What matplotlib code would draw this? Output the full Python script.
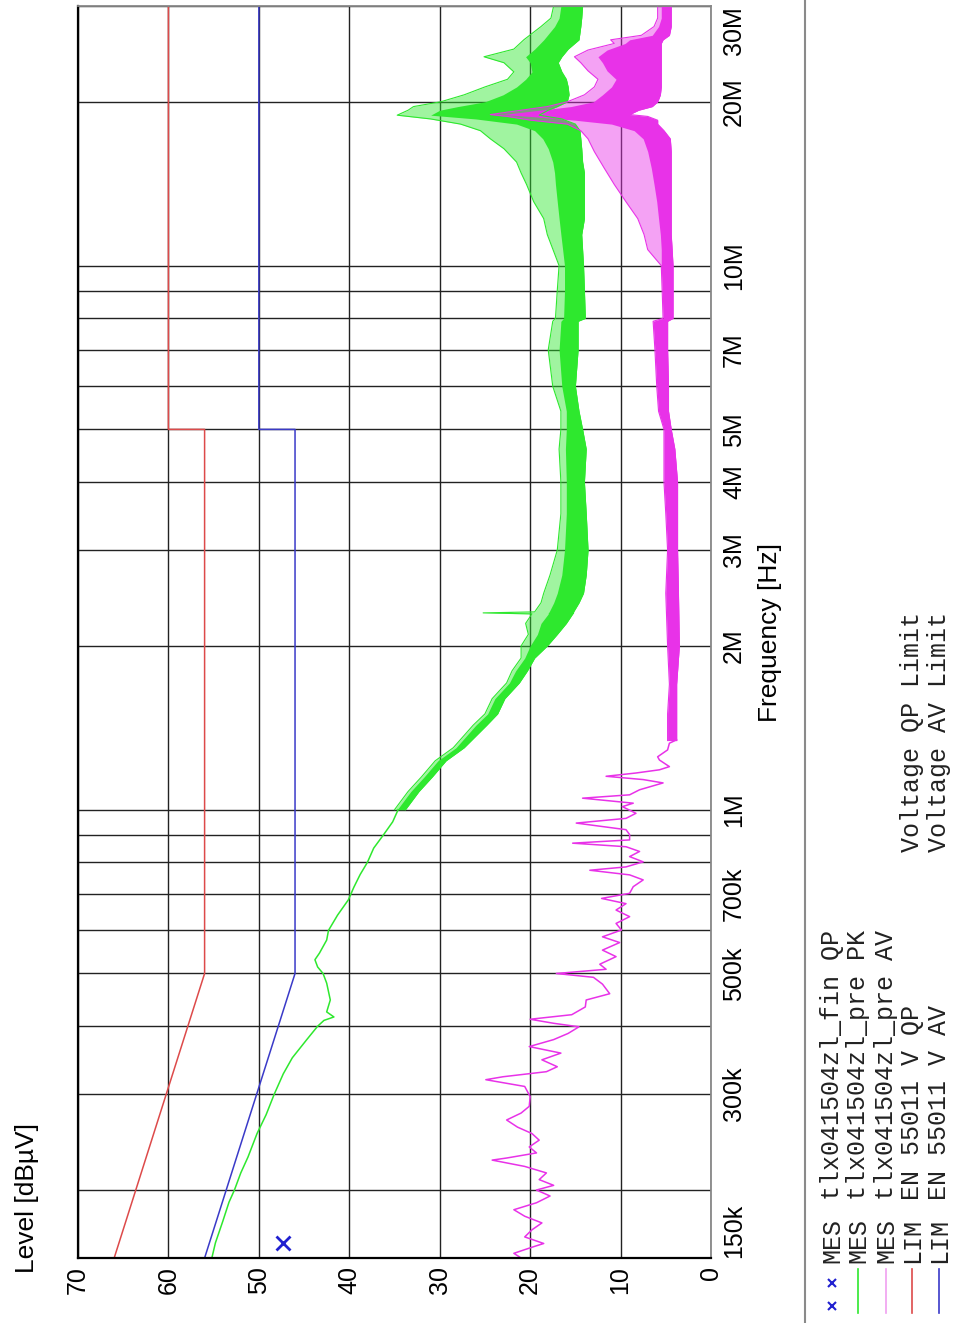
import matplotlib
matplotlib.use("Agg")
import matplotlib.pyplot as plt
from matplotlib.lines import Line2D
from matplotlib.ticker import NullFormatter
import numpy as np

# limit lines (EN 55011)
lim_freq = [150e3, 500e3, 5e6, 5e6, 30e6]
qp_limit = [66, 56, 56, 60, 60]
av_limit = [56, 46, 46, 50, 50]

# final QP measurement
qp_freq = [160e3]
qp_level = [47.3]

# pre-scan PK, low frequency part (single trace), kHz / dBuV
pk_line_freq = [150, 160, 175, 190, 200, 215, 230, 254, 275, 300, 327, 350, 378, 400,
                410, 416, 425, 447, 480, 500, 514, 530, 545, 576, 600, 640, 683, 720,
                760, 800, 850, 900, 950, 1000]
pk_line_level = [55.2, 54.8, 54.0, 53.3, 52.7, 52.0, 51.2, 50.2, 49.2, 48.3, 47.3, 46.3,
                 44.7, 43.5, 42.8, 41.7, 42.5, 42.1, 42.5, 42.9, 43.5, 43.8, 43.3, 42.5,
                 42.3, 41.3, 40.1, 39.5, 38.8, 38.0, 37.3, 36.2, 35.2, 34.6]

# pre-scan PK, noisy part: MHz, min / max / dense core
pk_band_freq = [1.0, 1.08, 1.15, 1.23, 1.30, 1.43, 1.5, 1.6, 1.71, 1.8, 1.9, 2.0, 2.1,
                2.2, 2.29, 2.30, 2.31, 2.4, 2.5, 2.7, 3.0, 3.5, 4.0, 4.6, 5.0, 5.4, 6.0,
                7.0, 7.9, 8.0, 9.0, 10.0, 11.4, 12.2, 13.1, 14.1, 14.8, 15.5, 16.4, 17.1,
                17.7, 18.2, 18.6, 18.9, 19.3, 19.6, 20.0, 20.6, 21.3, 22.0, 22.7, 23.6,
                24.2, 25.0, 26.0, 27.5, 28.5, 30.0]
pk_band_lo = [33.8, 32.3, 30.8, 29.3, 27.3, 24.8, 23.6, 22.8, 21.2, 20.3, 19.5, 18.1, 17.0,
              16.0, 15.3, 15.2, 15.2, 14.6, 14.1, 13.8, 13.6, 13.8, 14.0, 13.8, 14.2, 14.6,
              15.0, 14.7, 14.7, 13.9, 14.0, 14.1, 14.3, 14.0, 14.0, 14.0, 14.0, 14.2, 14.3,
              14.4, 14.5, 15.0, 16.5, 19.0, 18.0, 17.0, 15.9, 15.7, 15.8, 16.0, 16.5, 16.9,
              16.5, 15.8, 14.6, 14.4, 14.3, 14.2]
pk_band_hi = [35.0, 33.5, 32.0, 30.5, 28.5, 26.3, 25.0, 24.2, 22.6, 22.0, 21.0, 21.0, 20.2,
              20.5, 19.8, 25.2, 19.5, 18.8, 18.5, 17.8, 17.0, 16.6, 16.6, 16.8, 16.6, 16.6,
              17.5, 18.0, 17.5, 17.2, 17.0, 16.8, 18.1, 18.5, 19.6, 20.4, 21.0, 21.5, 22.9,
              24.4, 25.5, 27.7, 31.0, 34.7, 33.5, 32.9, 29.9, 27.3, 25.0, 22.5, 21.8, 22.9,
              25.1, 21.8, 20.7, 18.8, 17.7, 17.4]
pk_band_core = [34.7, 33.2, 31.7, 30.2, 28.2, 26.0, 24.7, 23.9, 22.3, 21.6, 20.6, 20.0, 19.2,
                18.8, 18.0, 18.0, 17.9, 17.4, 17.0, 16.5, 16.2, 16.0, 16.0, 16.1, 16.0, 16.0,
                16.5, 16.8, 16.6, 16.3, 16.2, 16.2, 16.6, 16.8, 17.0, 17.2, 17.3, 17.5, 18.0,
                18.6, 19.5, 21.5, 26.0, 31.0, 30.0, 28.0, 25.0, 23.0, 21.5, 20.5, 19.8, 20.0,
                20.5, 19.5, 18.5, 17.3, 16.8, 16.6]

# pre-scan AV, low frequency part (single trace), kHz / dBuV
av_line_freq = [150, 153, 157, 159.5, 164, 169, 174, 179, 184, 189.5, 195, 200, 204, 209,
                215, 221, 227, 229, 234, 240, 247, 254, 261, 269, 277, 285, 297, 310, 319,
                323, 330, 337, 347, 357, 367, 378, 388, 399, 405, 412, 420, 434, 447, 459,
                478, 492, 500, 509, 520, 537, 552, 570, 584, 601, 618, 636, 654, 672, 687,
                702, 722, 743, 759, 774, 785, 802, 820, 838, 855, 868, 880, 900, 919, 945,
                964, 985, 1013, 1028, 1050, 1065, 1088, 1120, 1136, 1152, 1168, 1184, 1200,
                1234, 1251, 1288, 1325, 1344]
av_line_level = [21.0, 21.8, 19.8, 18.5, 20.6, 19.8, 18.7, 20.6, 21.8, 19.3, 17.8, 19.3,
                 17.4, 19.0, 18.2, 20.6, 24.2, 22.6, 19.3, 20.1, 19.0, 19.8, 21.4, 22.6,
                 21.0, 20.1, 20.0, 20.6, 24.9, 23.0, 18.2, 17.0, 18.7, 16.6, 20.1, 17.4,
                 15.8, 14.6, 17.4, 20.0, 15.4, 13.9, 13.8, 11.2, 12.0, 13.0, 17.1, 11.6,
                 12.3, 10.5, 12.0, 10.1, 12.0, 9.9, 10.5, 9.0, 10.5, 9.4, 12.1, 9.0, 8.6,
                 7.5, 9.0, 13.4, 9.4, 7.5, 9.0, 7.9, 9.4, 15.3, 9.0, 9.0, 9.4, 14.9, 9.4,
                 8.3, 9.8, 8.6, 14.2, 9.0, 7.9, 5.3, 7.5, 11.6, 8.3, 5.7, 4.6, 5.7, 5.9,
                 4.8, 4.6, 3.8]

# pre-scan AV, noisy part: MHz, min / max / dense core
av_band_freq = [1.34, 1.5, 1.7, 2.0, 2.5, 3.0, 3.5, 4.0, 4.6, 5.0, 5.4, 6.0, 7.0, 7.9, 8.0,
                9.0, 10.0, 10.7, 11.4, 12.2, 13.1, 14.1, 15.1, 16.2, 17.1, 17.7, 18.2, 18.5,
                18.8, 18.95, 19.3, 19.6, 20.0, 20.6, 21.3, 22.0, 22.8, 23.6, 24.2, 24.9,
                25.6, 26.0, 26.5, 27.5, 28.5, 30.0]
av_band_lo = [3.8, 3.8, 3.8, 3.5, 3.6, 3.7, 3.7, 3.7, 4.0, 4.4, 4.7, 4.7, 4.8, 4.8, 4.2,
              4.2, 4.2, 4.3, 4.4, 4.4, 4.4, 4.4, 4.4, 4.4, 4.5, 5.2, 5.9, 5.9, 7.0, 9.0,
              8.0, 6.5, 5.9, 5.6, 5.5, 5.5, 5.5, 5.5, 5.5, 5.5, 5.5, 5.3, 4.6, 4.4, 4.4, 4.4]
av_band_hi = [4.8, 4.8, 4.6, 4.8, 5.0, 4.8, 5.0, 5.2, 5.2, 5.2, 5.8, 6.0, 6.2, 6.4, 5.3,
              5.4, 5.5, 7.0, 7.4, 8.1, 9.4, 10.7, 11.8, 12.9, 13.6, 14.4, 15.9, 19.9, 22.5,
              24.4, 21.0, 18.1, 15.9, 14.0, 12.9, 12.5, 13.6, 14.4, 15.1, 13.6, 10.7, 11.1,
              7.7, 6.3, 5.9, 5.9]
av_band_core = [4.8, 4.8, 4.6, 4.8, 5.0, 4.8, 5.0, 5.2, 5.2, 5.2, 5.8, 6.0, 6.2, 6.4, 5.3,
                5.4, 5.5, 5.5, 5.6, 5.8, 6.0, 6.3, 6.6, 7.0, 7.5, 8.5, 11.0, 15.0, 20.0,
                23.0, 19.0, 15.5, 13.0, 12.0, 11.0, 10.5, 11.5, 12.0, 12.5, 11.5, 9.5, 9.0,
                6.5, 5.8, 5.5, 5.5]

freq_ticks = [150e3, 300e3, 500e3, 700e3, 1e6, 2e6, 3e6, 4e6, 5e6, 7e6, 10e6, 20e6, 30e6]
freq_tick_labels = ["150k", "300k", "500k", "700k", "1M", "2M", "3M", "4M", "5M", "7M",
                    "10M", "20M", "30M"]
freq_grid = [200e3, 300e3, 400e3, 500e3, 600e3, 700e3, 800e3, 900e3, 1e6, 2e6, 3e6, 4e6,
             5e6, 6e6, 7e6, 8e6, 9e6, 10e6, 20e6]

legend_rows = [("MES", "tlx041504zl_fin QP", ""),
               ("MES", "tlx041504zl_pre PK", ""),
               ("MES", "tlx041504zl_pre AV", ""),
               ("LIM", "EN 55011 V QP", "Voltage QP Limit"),
               ("LIM", "EN 55011 V AV", "Voltage AV Limit")]

GREEN = "#2ee82e"
MAGENTA = "#e832e8"
RED = "#dd4a4a"
BLUE = "#3a3ac8"

W, H = 956, 1323


def fx(x):
    return x / W


def fy(y):
    return 1 - y / H


plt.rcParams["font.family"] = ["Liberation Sans", "DejaVu Sans"]
fig = plt.figure(figsize=(W / 100, H / 100), dpi=100)
ax = fig.add_axes([fx(78), fy(1258), (711 - 78) / W, (1258 - 6) / H])

ax.set_yscale("log")
ax.set_ylim(150e3, 30e6)
ax.set_xlim(70, 0)

# grid
ax.set_xticks(range(0, 71, 10))
ax.set_xticklabels([str(v) for v in range(0, 71, 10)], rotation=90, fontsize=18)
ax.yaxis.tick_right()
ax.set_yticks(freq_ticks)
ax.set_yticklabels(freq_tick_labels, rotation=90, va="center", fontsize=18)
ax.set_yticks(freq_grid, minor=True)
ax.yaxis.set_minor_formatter(NullFormatter())
ax.tick_params(axis="both", which="both", length=0)
ax.tick_params(axis="x", pad=6)
ax.tick_params(axis="y", pad=8)
ylabels = ax.get_yticklabels()
ylabels[0].set_va("bottom")
ylabels[-1].set_va("top")
ax.grid(True, which="major", axis="x", color="#222222", lw=1.0)
ax.grid(True, which="both", axis="y", color="#222222", lw=1.0)
ax.set_axisbelow(True)
for side in ["left", "bottom"]:
    ax.spines[side].set_color("black")
    ax.spines[side].set_linewidth(1.6)
for side in ["right", "top"]:
    ax.spines[side].set_color("#888888")
    ax.spines[side].set_linewidth(1.3)

# limits
ax.plot(qp_limit, lim_freq, color=RED, lw=1.1)
ax.plot(av_limit, lim_freq, color=BLUE, lw=1.1)

# PK trace
pkf = np.array(pk_line_freq) * 1e3
ax.plot(pk_line_level, pkf, color=GREEN, lw=1.1)
pbf = np.array(pk_band_freq) * 1e6
ax.fill_betweenx(pbf, pk_band_lo, pk_band_hi, color=GREEN, alpha=0.45, lw=0)
ax.fill_betweenx(pbf, pk_band_lo, pk_band_core, color=GREEN, lw=0)
ax.plot(pk_band_hi, pbf, color=GREEN, lw=0.8)
ax.plot(pk_band_lo, pbf, color=GREEN, lw=0.8)

# AV trace
avf = np.array(av_line_freq) * 1e3
ax.plot(av_line_level, avf, color=MAGENTA, lw=1.1)
abf = np.array(av_band_freq) * 1e6
ax.fill_betweenx(abf, av_band_lo, av_band_hi, color=MAGENTA, alpha=0.45, lw=0)
ax.fill_betweenx(abf, av_band_lo, av_band_core, color=MAGENTA, lw=0)
ax.plot(av_band_hi, abf, color=MAGENTA, lw=0.8)
ax.plot(av_band_lo, abf, color=MAGENTA, lw=0.8)

# final measurement marker
ax.plot(qp_level, qp_freq, "x", color="#2020d0", ms=10, mew=2)

# axis titles
fig.text(fx(27), fy(1198), "Level [dB\u00b5V]", rotation=90, ha="center", va="center",
         fontsize=19)
fig.text(fx(770), fy(632), "Frequency [Hz]", rotation=90, ha="center", va="center",
         fontsize=19)

# separator
fig.add_artist(Line2D([fx(805), fx(805)], [fy(0), fy(1323)], color="#8a8a8a", lw=1.5))

# legend
row_x = [832, 858, 886, 912, 939]
sample_colors = [None, GREEN, "#f0a0f0", RED, BLUE]
mono = ["Liberation Mono", "DejaVu Sans Mono"]
for i, (kind, name, desc) in enumerate(legend_rows):
    x = fx(row_x[i])
    if i == 0:
        fig.add_artist(Line2D([x, x], [fy(1283), fy(1306)], ls="none", marker="x",
                              color="#2020d0", ms=6, mew=1.5))
    else:
        fig.add_artist(Line2D([x, x], [fy(1269), fy(1313)], color=sample_colors[i], lw=1.2))
    fig.text(x, fy(1263), kind, rotation=90, ha="center", va="bottom", fontsize=18,
             family=mono, color="#222222")
    fig.text(x, fy(1200), name, rotation=90, ha="center", va="bottom", fontsize=18,
             family=mono, color="#222222")
    if desc:
        fig.text(x, fy(852), desc, rotation=90, ha="center", va="bottom", fontsize=18,
                 family=mono, color="#222222")

fig.savefig("out.png", dpi=100)
